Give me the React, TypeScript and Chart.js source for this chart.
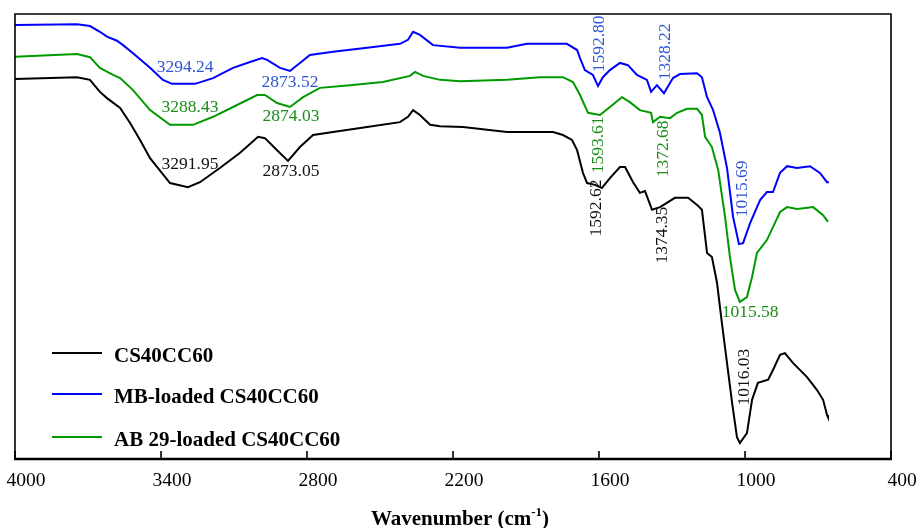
import React, { useEffect, useRef } from "react";
import { Chart, registerables } from "chart.js";

Chart.register(...registerables);

// ---- Data (wavenumber in cm-1, transmittance in arbitrary %) ----
const seriesLabels = ["CS40CC60", "MB-loaded CS40CC60", "AB 29-loaded CS40CC60"];

const blackWn = [4000,3745,3692,3651,3622,3568,3527,3486,3445,3363,3289,3240,3158,3075,3001,2973,2923,2878,2829,2775,2693,2553,2418,2385,2364,2336,2294,2253,2159,1978,1789,1748,1711,1690,1666,1649,1616,1588,1555,1514,1493,1460,1432,1411,1382,1349,1288,1234,1197,1177,1156,1136,1115,1095,1074,1053,1033,1021,992,971,947,905,885,856,836,803,745,704,679,663,659];
const blackT = [85.4,85.8,85.2,82.5,81.1,78.9,75.5,71.7,67.6,62.0,61.1,62.2,65.4,68.8,72.4,72.1,69.4,67.0,70.1,72.8,73.5,74.6,75.7,76.9,78.4,77.3,75.1,74.8,74.6,73.5,73.5,72.8,71.7,69.4,64.3,62.0,61.6,60.9,63.1,65.6,65.6,62.2,59.8,60.2,56.0,56.6,58.7,58.7,57.1,56.0,46.3,45.4,39.6,30.6,21.6,12.6,4.9,3.6,5.8,13.3,17.1,17.8,20.0,23.4,23.8,21.6,18.4,15.5,13.3,9.9,9.4];

const blueWn = [4000,3745,3692,3651,3622,3581,3556,3515,3445,3392,3355,3260,3186,3104,3034,2985,2964,2911,2870,2829,2788,2693,2553,2418,2385,2364,2336,2282,2171,1978,1896,1732,1690,1678,1658,1625,1604,1584,1555,1514,1481,1444,1403,1386,1362,1333,1296,1267,1197,1177,1156,1131,1103,1074,1049,1025,1008,979,938,910,885,856,827,786,733,692,663,655];
const blueT = [97.5,97.7,97.3,96.0,94.9,94.0,93.0,91.2,87.9,85.2,84.3,84.3,85.6,87.9,89.2,90.1,89.7,87.9,87.2,89.0,90.8,91.5,92.4,93.3,94.2,96.0,95.3,93.0,92.4,92.4,93.3,93.3,91.9,90.1,87.4,86.3,83.8,85.8,87.4,89.0,88.5,86.3,85.2,82.5,84.0,82.2,85.6,86.5,86.7,85.8,81.3,78.4,73.3,65.4,54.4,48.3,48.5,53.0,58.2,60.0,60.0,64.3,65.8,65.4,65.8,64.3,62.2,62.2];

const greenWn = [4000,3745,3692,3651,3597,3568,3515,3445,3363,3268,3186,3104,3005,2973,2923,2870,2816,2747,2623,2488,2377,2356,2323,2253,2171,1978,1842,1748,1707,1678,1645,1596,1555,1506,1473,1432,1386,1378,1349,1308,1279,1238,1197,1177,1164,1136,1110,1082,1062,1041,1021,992,971,951,910,885,856,827,786,720,679,659];
const greenT = [90.4,91.0,90.3,87.9,86.3,85.6,82.9,78.4,75.1,75.1,76.9,79.1,81.8,81.8,80.0,79.1,81.3,83.4,84.0,84.7,86.1,87.0,86.1,85.2,84.9,85.2,85.8,85.8,84.7,81.8,77.8,77.3,79.1,81.3,80.2,78.4,77.8,75.7,76.9,76.6,77.8,78.7,78.7,77.3,72.4,70.1,64.9,54.4,45.4,38.0,35.3,36.4,40.9,46.3,49.2,52.1,55.5,56.6,56.2,56.6,54.8,53.3];

// Peak annotations
const annText = ["3294.24","2873.52","1592.80","1328.22","1015.69","3288.43","2874.03","1593.61","1372.68","1015.58","3291.95","2873.05","1592.62","1374.35","1016.03"];
const annWn = [3301,2870,1600,1329,1012,3281,2866,1604,1337,979,3281,2866,1612,1341,1004];
const annT = [87.9,84.7,93.3,91.5,60.7,79.1,76.9,70.6,69.7,33.0,66.1,64.7,56.4,50.3,18.4];
const annVertical = [false,false,true,true,true,false,false,true,true,false,false,false,true,true,true];
const annSeries = [1,1,1,1,1,2,2,2,2,2,0,0,0,0,0];

const xTickMin = 400;
const xTickMax = 4000;
const xTickStep = 600;

const lineColors = ["#000000", "#0000ff", "#009a00"];
const textColors = ["#111111", "#2f54d8", "#1a8c1a"];
const SERIF = '"Liberation Serif", "Times New Roman", serif';

const toPoints = (xs: number[], ys: number[]) => xs.map((x, i) => ({ x, y: ys[i] }));

const decorPlugin = {
  id: "decor",
  afterDatasetsDraw(chart: any) {
    const ctx = chart.ctx;
    const xs = chart.scales.x;
    const ys = chart.scales.y;
    ctx.save();
    ctx.font = `17.5px ${SERIF}`;
    ctx.textAlign = "center";
    ctx.textBaseline = "middle";
    for (let i = 0; i < annText.length; i++) {
      const px = xs.getPixelForValue(annWn[i]);
      const py = ys.getPixelForValue(annT[i]);
      ctx.fillStyle = textColors[annSeries[i]];
      ctx.save();
      ctx.translate(px, py);
      if (annVertical[i]) ctx.rotate(-Math.PI / 2);
      ctx.fillText(annText[i], 0, 0);
      ctx.restore();
    }
    ctx.restore();
  },
  afterDraw(chart: any) {
    const ctx = chart.ctx;
    const { left, right, top, bottom } = chart.chartArea;
    const xs = chart.scales.x;
    ctx.save();
    // frame
    ctx.strokeStyle = "#000";
    ctx.lineWidth = 1.6;
    ctx.beginPath();
    ctx.moveTo(left, bottom);
    ctx.lineTo(left, top);
    ctx.lineTo(right, top);
    ctx.lineTo(right, bottom);
    ctx.stroke();
    ctx.lineWidth = 2.4;
    ctx.beginPath();
    ctx.moveTo(left - 1, bottom);
    ctx.lineTo(right + 1, bottom);
    ctx.stroke();
    // inward ticks
    ctx.lineWidth = 1.6;
    xs.ticks.forEach((t: any) => {
      const px = xs.getPixelForValue(t.value);
      ctx.beginPath();
      ctx.moveTo(px, bottom);
      ctx.lineTo(px, bottom - 8);
      ctx.stroke();
    });
    // legend
    const rows = [bottom - 106, bottom - 65, bottom - 22];
    ctx.font = `bold 21px ${SERIF}`;
    ctx.textAlign = "left";
    ctx.textBaseline = "alphabetic";
    chart.data.datasets.forEach((ds: any, i: number) => {
      const y = rows[i];
      ctx.strokeStyle = ds.borderColor;
      ctx.lineWidth = 2;
      ctx.beginPath();
      ctx.moveTo(left + 37, y);
      ctx.lineTo(left + 87, y);
      ctx.stroke();
      ctx.fillStyle = "#000";
      ctx.fillText(ds.label, left + 99, y + 8.5);
    });
    // axis title with superscript
    const main = "Wavenumber (cm";
    const sup = "-1";
    const tail = ")";
    ctx.font = `bold 21px ${SERIF}`;
    const wMain = ctx.measureText(main).width;
    const wTail = ctx.measureText(tail).width;
    ctx.font = `bold 13px ${SERIF}`;
    const wSup = ctx.measureText(sup).width;
    const total = wMain + wSup + wTail;
    const cx = (left + right) / 2 + 7;
    let x0 = cx - total / 2;
    const base = bottom + 66;
    ctx.fillStyle = "#000";
    ctx.font = `bold 21px ${SERIF}`;
    ctx.fillText(main, x0, base);
    ctx.font = `bold 13px ${SERIF}`;
    ctx.fillText(sup, x0 + wMain, base - 9);
    ctx.font = `bold 21px ${SERIF}`;
    ctx.fillText(tail, x0 + wMain + wSup, base);
    ctx.restore();
  },
};

export default function App() {
  const canvasRef = useRef<HTMLCanvasElement | null>(null);

  useEffect(() => {
    if (!canvasRef.current) return;
    const seriesX = [blackWn, blueWn, greenWn];
    const seriesY = [blackT, blueT, greenT];
    const chart = new Chart(canvasRef.current, {
      type: "line",
      data: {
        datasets: seriesLabels.map((label, i) => ({
          label,
          data: toPoints(seriesX[i], seriesY[i]),
          borderColor: lineColors[i],
          backgroundColor: lineColors[i],
          borderWidth: 2,
          pointRadius: 0,
          tension: 0,
          fill: false,
        })),
      },
      options: {
        animation: false,
        responsive: false,
        devicePixelRatio: 1,
        layout: { padding: { left: 15, right: 25, top: 14, bottom: 0 } },
        plugins: {
          legend: { display: false },
          tooltip: { enabled: false },
        },
        scales: {
          x: {
            type: "linear",
            min: xTickMin,
            max: xTickMax,
            reverse: true,
            grid: { display: false, drawTicks: false },
            border: { display: false },
            ticks: {
              stepSize: xTickStep,
              autoSkip: false,
              maxRotation: 0,
              labelOffset: 11,
              padding: 10,
              color: "#000",
              font: { family: SERIF, size: 19.5 },
              callback: (v: any) => String(v),
            },
            afterFit: (scale: any) => {
              scale.height = 69;
              scale.paddingLeft = 0;
              scale.paddingRight = 0;
            },
          },
          y: {
            type: "linear",
            min: 0,
            max: 100,
            display: false,
          },
        },
      },
      plugins: [decorPlugin],
    } as any);
    return () => chart.destroy();
  }, []);

  return (
    <div style={{ position: "absolute", left: 0, top: 0, width: 916, height: 528, background: "#fff" }}>
      <canvas ref={canvasRef} width={916} height={528} />
    </div>
  );
}
